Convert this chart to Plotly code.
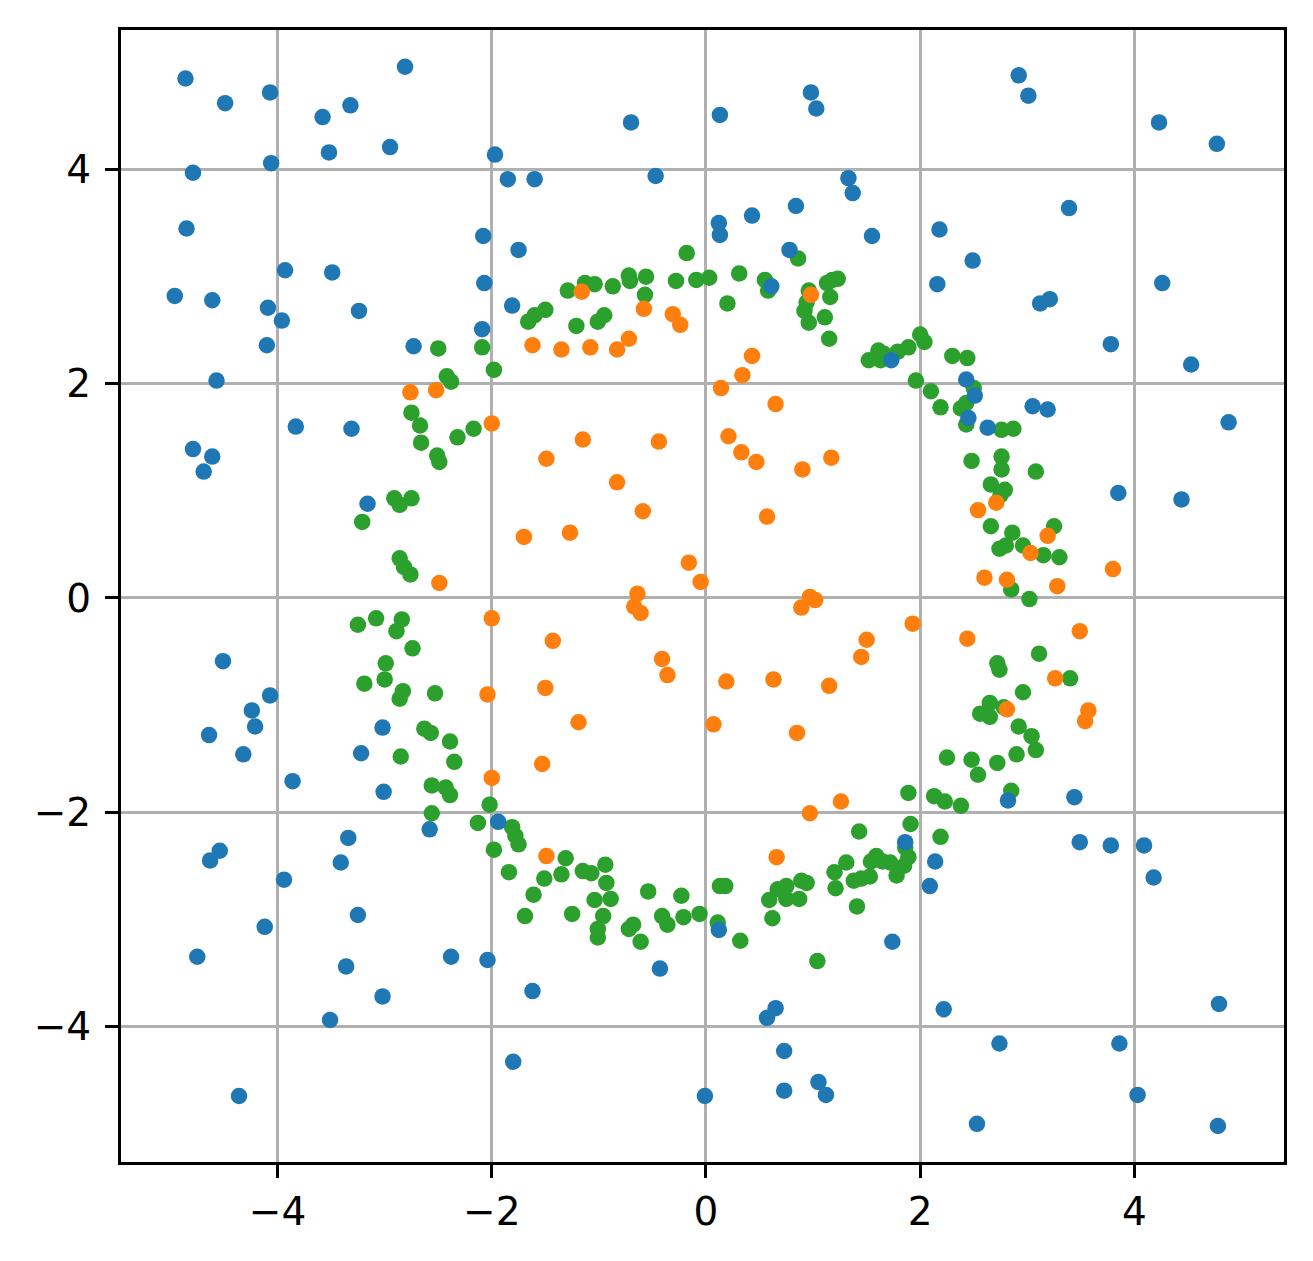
import plotly.graph_objects as go

# Outer class (blue)
outer_x = [-4.86,-4.49,-4.07,-3.58,-3.32,-2.81,-3.52,-4.06,-2.95,-4.79,-1.97,-1.85,-1.60,-0.70,-0.47,-4.85,-2.08,-1.75,-3.93,-3.49,-2.07,-4.96,-4.61,-4.09,-3.96,-3.24,-1.81,-2.09,-4.10,-2.73,-4.57,-3.83,-3.31,-4.79,-4.61,-4.69,-3.16,
           0.13,0.98,1.03,2.92,3.01,4.23,4.77,1.33,1.37,0.84,0.43,0.12,0.13,1.55,3.39,2.18,2.49,0.78,2.16,4.26,3.12,3.21,0.61,3.78,4.53,1.73,2.43,2.51,3.05,3.19,4.88,2.45,2.63,3.85,4.44,
           -4.51,-4.07,-4.24,-4.21,-4.64,-4.32,-3.86,-3.02,-3.22,-3.01,-2.58,-1.94,-3.34,-4.54,-4.63,-3.41,-3.94,-3.25,-4.12,-4.75,-3.36,-2.38,-2.04,-3.02,-3.51,-1.62,-1.80,-4.36,-0.43,-0.01,
           2.82,3.44,1.86,2.14,2.09,3.49,3.78,4.09,4.18,0.12,1.74,0.65,0.57,2.22,4.79,0.73,2.74,3.86,0.73,1.05,1.12,4.03,2.53,4.78]
outer_y = [4.85,4.62,4.72,4.49,4.60,4.96,4.16,4.06,4.21,3.97,4.14,3.91,3.91,4.44,3.94,3.45,3.38,3.25,3.06,3.04,2.94,2.82,2.78,2.71,2.59,2.68,2.73,2.51,2.36,2.35,2.03,1.60,1.58,1.39,1.32,1.18,0.88,
           4.51,4.72,4.57,4.88,4.69,4.44,4.24,3.92,3.78,3.66,3.57,3.50,3.39,3.38,3.64,3.44,3.15,3.25,2.93,2.94,2.75,2.79,2.91,2.37,2.18,2.22,2.04,1.89,1.79,1.76,1.64,1.68,1.59,0.98,0.92,
           -0.59,-0.91,-1.05,-1.20,-1.28,-1.46,-1.71,-1.21,-1.45,-1.81,-2.16,-2.09,-2.24,-2.36,-2.45,-2.47,-2.63,-2.96,-3.07,-3.35,-3.44,-3.35,-3.38,-3.72,-3.94,-3.67,-4.33,-4.65,-3.46,-4.65,
           -1.89,-1.86,-2.28,-2.46,-2.69,-2.28,-2.31,-2.31,-2.61,-3.10,-3.21,-3.83,-3.92,-3.84,-3.79,-4.23,-4.16,-4.16,-4.60,-4.52,-4.64,-4.64,-4.91,-4.93]

# Inner class (orange)
inner_x = [-1.16,-0.58,-0.31,-0.24,-0.72,-1.62,-1.35,-1.08,-0.83,-2.76,-2.52,-2.00,-1.15,-0.44,-1.49,-0.83,-0.59,-1.70,-1.27,-0.16,-0.05,-2.49,
           -0.64,-0.67,-0.61,
           0.98,0.43,0.34,0.14,0.65,0.21,0.33,0.47,0.90,1.17,0.57,2.54,2.71,3.19,3.03,3.80,2.60,2.81,3.28,
           0.89,0.97,1.02,
           -2.00,-1.43,-0.41,-0.36,-2.04,-1.50,-1.19,-1.53,-2.00,-1.49,
           1.93,1.50,1.45,2.44,3.49,0.19,0.63,1.15,0.07,0.85,3.26,2.81,3.57,3.54,1.26,0.97,0.66]
inner_y = [2.86,2.70,2.65,2.55,2.42,2.36,2.32,2.34,2.32,1.92,1.94,1.63,1.48,1.46,1.30,1.08,0.81,0.57,0.61,0.33,0.15,0.14,
           0.04,-0.08,-0.14,
           2.83,2.26,2.08,1.96,1.81,1.51,1.36,1.27,1.20,1.31,0.76,0.82,0.89,0.58,0.42,0.27,0.19,0.17,0.11,
           -0.09,0.01,-0.02,
           -0.19,-0.40,-0.57,-0.72,-0.90,-0.84,-1.16,-1.55,-1.68,-2.41,
           -0.24,-0.39,-0.55,-0.38,-0.31,-0.78,-0.76,-0.82,-1.18,-1.26,-0.75,-1.04,-1.05,-1.15,-1.90,-2.01,-2.42]

# Ring class (green)
ring_x = [-0.18,-0.72,-0.71,-0.56,-0.28,-0.09,0.03,-1.13,-1.04,-1.29,-0.87,-0.57,-1.50,-1.60,-1.66,-1.21,-1.01,-0.95,-2.50,-2.09,-1.98,-2.42,-2.38,-2.75,-2.67,-2.66,-2.17,-2.32,-2.51,-2.49,-2.91,-2.86,-2.75,-3.21,-2.86,-2.82,-2.76,
          0.31,0.55,0.58,0.20,0.86,0.96,0.94,0.92,0.96,1.11,1.15,1.13,1.18,1.23,1.16,2.00,2.04,1.89,1.79,1.61,1.66,1.52,1.63,2.30,2.44,1.96,2.10,2.19,2.38,2.43,2.50,2.43,2.76,2.87,2.48,2.76,2.76,3.08,2.66,2.79,2.75,2.66,2.86,3.25,2.74,2.80,2.96,3.15,3.30,2.85,3.02,
          -3.25,-3.08,-2.84,-2.89,-2.74,-2.99,-3.00,-3.19,-2.83,-2.86,-2.53,-2.85,-2.63,-2.57,-2.39,-2.35,-2.56,-2.43,-2.39,-2.56,-2.02,-2.13,-1.98,-1.81,-1.78,-1.75,-1.84,-1.31,-1.51,-1.61,-1.35,-1.15,-1.07,-0.94,-0.93,-1.04,-0.89,-1.69,-1.25,-0.96,-1.01,-1.01,-0.72,-0.68,-0.61,-0.54,-0.41,-0.36,-0.23,-0.21,-0.06,
          3.11,2.72,2.74,3.40,2.96,2.65,2.56,2.65,2.78,2.92,3.04,3.08,2.90,2.25,2.48,2.72,2.54,2.85,1.89,2.13,2.23,2.38,1.91,1.43,2.19,1.86,1.89,1.85,1.78,1.72,1.65,1.59,1.54,1.31,1.20,1.21,1.53,1.45,1.38,1.41,0.89,0.94,0.75,0.67,0.75,0.87,0.59,0.13,0.18,0.62,0.11,0.32,1.04]
ring_y = [3.22,3.01,2.96,3.00,2.96,2.97,2.99,2.94,2.93,2.87,2.91,2.83,2.69,2.64,2.58,2.54,2.58,2.64,2.33,2.34,2.13,2.07,2.02,1.73,1.61,1.45,1.58,1.50,1.33,1.27,0.93,0.87,0.93,0.71,0.37,0.29,0.22,
          3.03,2.97,2.87,2.75,3.17,2.87,2.76,2.68,2.57,2.62,2.42,2.94,2.97,2.98,2.81,2.46,2.39,2.34,2.30,2.31,2.28,2.22,2.22,2.26,2.24,2.03,1.93,1.78,1.77,1.82,1.96,1.62,1.57,1.58,1.28,1.32,1.20,1.18,1.06,1.01,0.96,0.67,0.61,0.67,0.46,0.49,0.49,0.40,0.38,0.08,-0.01,
          -0.25,-0.19,-0.20,-0.31,-0.47,-0.61,-0.76,-0.80,-0.87,-0.94,-0.89,-1.48,-1.22,-1.26,-1.34,-1.53,-1.75,-1.77,-1.84,-2.01,-1.93,-2.10,-2.35,-2.14,-2.22,-2.30,-2.56,-2.43,-2.62,-2.77,-2.58,-2.55,-2.57,-2.49,-2.66,-2.82,-2.81,-2.97,-2.95,-2.97,-3.09,-3.17,-3.09,-3.05,-3.21,-2.74,-2.97,-3.05,-2.78,-2.98,-2.95,
          -0.52,-0.61,-0.67,-0.75,-0.88,-0.98,-1.08,-1.11,-1.02,-1.20,-1.29,-1.42,-1.46,-1.49,-1.51,-1.54,-1.65,-1.80,-1.82,-1.85,-1.90,-1.94,-2.11,-2.18,-2.23,-2.33,-2.42,-2.50,-2.59,-2.47,-2.46,-2.41,-2.46,-2.47,-2.56,-2.71,-2.60,-2.62,-2.64,-2.88,-2.64,-2.66,-2.69,-2.72,-2.81,-2.81,-2.82,-2.69,-2.69,-2.99,-3.03,-3.20,-3.39]

tick_vals = [-4, -2, 0, 2, 4]

fig = go.Figure()
marker_size = 16.5
fig.add_trace(go.Scatter(x=ring_x, y=ring_y, mode="markers",
                         marker=dict(color="#2ca02c", size=marker_size, line=dict(width=0))))
fig.add_trace(go.Scatter(x=inner_x, y=inner_y, mode="markers",
                         marker=dict(color="#ff7f0e", size=marker_size, line=dict(width=0))))
fig.add_trace(go.Scatter(x=outer_x, y=outer_y, mode="markers",
                         marker=dict(color="#1f77b4", size=marker_size, line=dict(width=0))))

axis_common = dict(
    showgrid=True, gridcolor="#b0b0b0", gridwidth=2.5,
    zeroline=False,
    showline=True, linecolor="black", linewidth=3, mirror=True,
    ticks="outside", ticklen=13, tickwidth=3, tickcolor="black",
    tickvals=tick_vals,
    tickfont=dict(family="DejaVu Sans", size=39, color="black"),
)

fig.update_layout(
    width=1305, height=1253,
    margin=dict(l=113, r=29, t=22, b=99),
    paper_bgcolor="white", plot_bgcolor="white",
    showlegend=False,
    xaxis=dict(range=[-5.462, 5.397], **axis_common),
    yaxis=dict(range=[-5.266, 5.303], ticklabelstandoff=6, **axis_common),
)

fig.write_html("out.html")
